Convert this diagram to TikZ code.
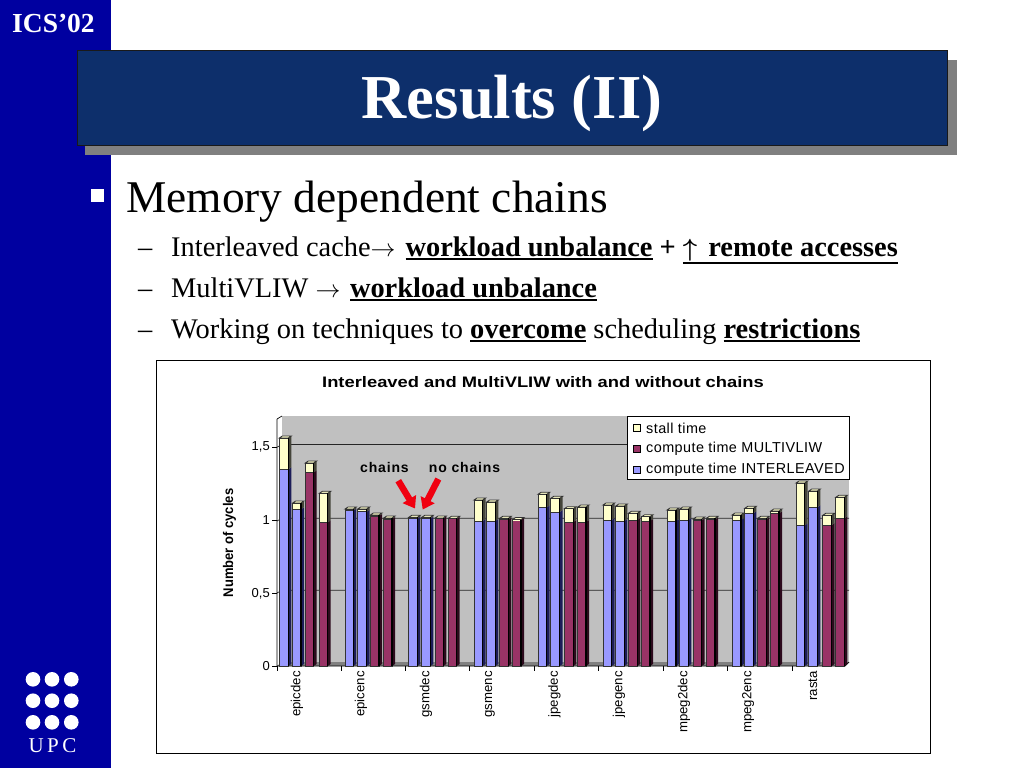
\documentclass[tikz,border=0pt]{standalone}
\usepackage{fontspec}
\setmainfont{Liberation Serif}
\setsansfont{Liberation Sans}
\newfontfamily\upcfont[LetterSpace=16]{Liberation Serif}
\newfontfamily\chainfont[LetterSpace=6]{Liberation Sans}
\newfontfamily\legfont[LetterSpace=3]{Liberation Sans}
\definecolor{bandblue}{HTML}{0000A0}
\definecolor{titleblue}{HTML}{0D2F6B}
\definecolor{wallgray}{HTML}{C0C0C0}
\definecolor{barblue}{HTML}{9999FF}
\definecolor{barpurple}{HTML}{993366}
\definecolor{baryellow}{HTML}{FFFFCC}
\definecolor{barblueside}{HTML}{1C1C58}
\definecolor{barpurpleside}{HTML}{2C0A1C}
\definecolor{baryellowside}{HTML}{45453A}
\definecolor{arrowred}{HTML}{F00010}
\newcommand{\fs}[1]{\fontsize{#1}{#1}\selectfont}
\newcommand{\ulb}[1]{\leavevmode\vtop{\hbox{#1}\kern1.5pt\hrule height 1.9pt}}
\newcommand{\chartbar}[5]{% x0, x1, colour, compute top, stall top
  \fill[#3side] (#2,666) -- (#2+3,664) -- (#2+3,#4-2) -- (#2,#4) -- cycle;
  \fill[baryellowside] (#2,#4) -- (#2+3,#4-2) -- (#2+3,#5-2) -- (#2,#5) -- cycle;
  \filldraw[barline,fill=baryellow] (#1,#5) -- (#1+3,#5-2) -- (#2+3,#5-2) -- (#2,#5) -- cycle;
  \filldraw[barline,fill=#3] (#1,666) rectangle (#2,#4);
  \filldraw[barline,fill=baryellow] (#1,#4) rectangle (#2,#5);
  \draw[black,line width=1.3pt] (#2,666) -- (#2,#5);
}
\tikzset{
  x=1pt,y=-1pt,
  barline/.style={draw=black!80,line width=0.8pt},
  grid/.style={draw=black!85,line width=0.7pt},
  tick/.style={draw=black,line width=0.7pt},
  ticklabel/.style={font=\sffamily\fs{13},anchor=east,inner sep=0pt},
  catlabel/.style={font=\sffamily\fs{13.2},rotate=90,anchor=east,inner sep=0pt},
  legendlabel/.style={font=\legfont\fs{14.4},anchor=west,inner sep=0pt},
  swatch/.style={draw=black,line width=0.7pt},
  subitem/.style={font=\fs{28.4},anchor=base west,inner sep=0pt},
  redarrow/.style={-{Triangle[length=11pt,width=15pt]},draw=arrowred,line width=6.5pt},
  upcdot/.style={circle,fill=white,minimum size=14.6pt,inner sep=0pt},
  chainlabel/.style={font=\chainfont\bfseries\fs{14},inner sep=0pt},
}
\usetikzlibrary{arrows.meta}
\begin{document}
\begin{tikzpicture}
\useasboundingbox (0,0) rectangle (1024,768);
\fill[white] (0,0) rectangle (1024,768);
% left band
\fill[bandblue] (0,0) rectangle (111,768);
\node[font=\bfseries\fs{27.5},text=white,inner sep=0pt,anchor=base] (ics) at (53.5,33) {ICS’02};
% title
\fill[black!50] (85,60) rectangle (957,155);
\filldraw[fill=titleblue,draw=black!90,line width=1pt] (77,51) rectangle (947,145);
\node[font=\bfseries\fs{62.5},text=white,inner sep=0pt,anchor=base] (title) at (512,118) {Results (II)};
% bullets
\fill[white] (91,189) rectangle (104,202);
\node[font=\fs{45.4},anchor=base west,inner sep=0pt] (main) at (126,212) {Memory dependent chains};
\node[subitem] (d1) at (138,256) {–};
\node[subitem] (d2) at (138,297) {–};
\node[subitem] (d3) at (138,338) {–};
\node[subitem] (l1) at (171,256) {Interleaved cache$\rightarrow$\kern3pt{} \textbf{\ulb{workload unbalance} + \ulb{{\boldmath$\uparrow$}\kern4pt{} remote accesses}}};
\node[subitem] (l2) at (171,297) {MultiVLIW $\rightarrow$\kern2.5pt{} \textbf{\ulb{workload unbalance}}};
\node[subitem] (l3) at (171,338) {Working on techniques to \textbf{\ulb{overcome}} scheduling \textbf{\ulb{restrictions}}};
% logo
\foreach \px in {33,52,71.3}
  \foreach \py in {679.3,700.7,722.3}
    \node[upcdot] at (\px,\py) {};
\node[font=\upcfont\fs{21},text=white,inner sep=0pt,anchor=base] (upc) at (52.5,752.7) {UPC};
% chart frame
\filldraw[fill=white,draw=black,line width=0.8pt] (156,360) rectangle (930,753);
\node[font=\sffamily\bfseries\fs{15.2},inner sep=0pt,xscale=1.208] (ctitle) at (543,382) {Interleaved and MultiVLIW with and without chains};
% plot walls
\fill[wallgray] (282,416) rectangle (849,662);
\fill[black!50] (277,666) -- (282,662) -- (849,662) -- (845,666) -- cycle;
\foreach \gy in {444.5,518.3,590.3}
  \draw[grid] (277,\gy+2.7) -- (282,\gy) -- (849,\gy);
\draw[tick] (277,419) -- (282,416);
\draw[tick] (277,419) -- (277,666) -- (845,666) -- (849,662);
\foreach \ty in {447,520,593,666}
  \draw[tick] (272,\ty) -- (277,\ty);
\foreach \tx in {277,341,405.5,469.5,534.5,598.5,663.5,727.5,792.5}
  \draw[tick] (\tx,666) -- (\tx,671);
\node[ticklabel] (y15) at (270,447) {1,5};
\node[ticklabel] (y10) at (270,520) {1};
\node[ticklabel] (y05) at (270,593.5) {0,5};
\node[ticklabel] (y00) at (270,666) {0};
\node[font=\sffamily\bfseries\fs{14},rotate=90,inner sep=0pt,xscale=.93] (ylab) at (229.5,543) {Number of cycles};
% bars
\foreach \a/\b/\c/\d/\e in {
 279.3/288.3/barblue/469.3/438, 292.7/301/barblue/509.3/503, 305.3/313.7/barpurple/472.3/463, 319.3/327.7/barpurple/522.3/493.3,
 345/353.3/barblue/510.7/509, 357.7/366.7/barblue/511.7/509, 370.3/379/barpurple/516/515, 383.7/392/barpurple/519/518,
 408.7/417.3/barblue/518.7/517.3, 421.7/430.3/barblue/518.7/517.3, 435/443.3/barpurple/518.3/518, 448.3/456.7/barpurple/518.7/518.3,
 474/482.7/barblue/521/500, 486.7/495.3/barblue/521/502, 499.7/508.3/barpurple/519.7/518.3, 512.7/521/barpurple/519.7/519.5,
 538/546.7/barblue/507.3/494.3, 550.7/559.7/barblue/512/498.3, 564.3/573.3/barpurple/522/508.7, 577.7/586/barpurple/522/507,
 603/611.7/barblue/520/505, 615.7/624.3/barblue/521/506, 628.3/637.3/barpurple/520/513.3, 641.7/650/barpurple/521/516.7,
 667/676/barblue/521/510, 679.7/688.3/barblue/520/509, 693.3/701.7/barpurple/520.3/519, 706.3/715/barpurple/519.7/518.3,
 732/741/barblue/520/515, 744.7/753.3/barblue/513.3/508.3, 757.7/766.3/barpurple/519.3/518.3, 770.7/779/barpurple/513.3/511,
 796/804.7/barblue/525.3/483, 808.7/817.3/barblue/507.3/491, 822.7/831.7/barpurple/525/515.3, 835.7/844.3/barpurple/518.3/497.3}
 {\chartbar{\a}{\b}{\c}{\d}{\e}}
% category labels
\foreach \lx/\lab in {297/epicdec,361/epicenc,426/gsmdec,490/gsmenc,554.5/jpegdec,619/jpegenc,684/mpeg2dec,748/mpeg2enc,813/rasta}
  \node[catlabel] at (\lx,671) {\lab};
% legend
\filldraw[fill=white,draw=black,line width=0.8pt] (627,416) rectangle (849.3,479);
\filldraw[swatch,fill=baryellow] (633,424.5) rectangle (640.3,431.5);
\filldraw[swatch,fill=barpurple] (633,445) rectangle (640.3,452);
\filldraw[swatch,fill=barblue] (633,466) rectangle (640.3,473);
\node[legendlabel] (lg1) at (646,428) {stall time};
\node[legendlabel] (lg2) at (646,448.8) {compute time MULTIVLIW};
\node[legendlabel] (lg3) at (646,469.5) {compute time INTERLEAVED};
% chains annotations
\node[chainlabel] (chains) at (384.5,467.3) {chains};
\node[chainlabel] (nochains) at (464.5,467.3) {no chains};
\coordinate (c1) at (398.3,480.7);
\coordinate (c2) at (415,508.5);
\coordinate (n1) at (438.3,479);
\coordinate (n2) at (422.7,509.5);
\draw[redarrow] (c1) -- (c2);
\draw[redarrow] (n1) -- (n2);
\end{tikzpicture}
\end{document}
